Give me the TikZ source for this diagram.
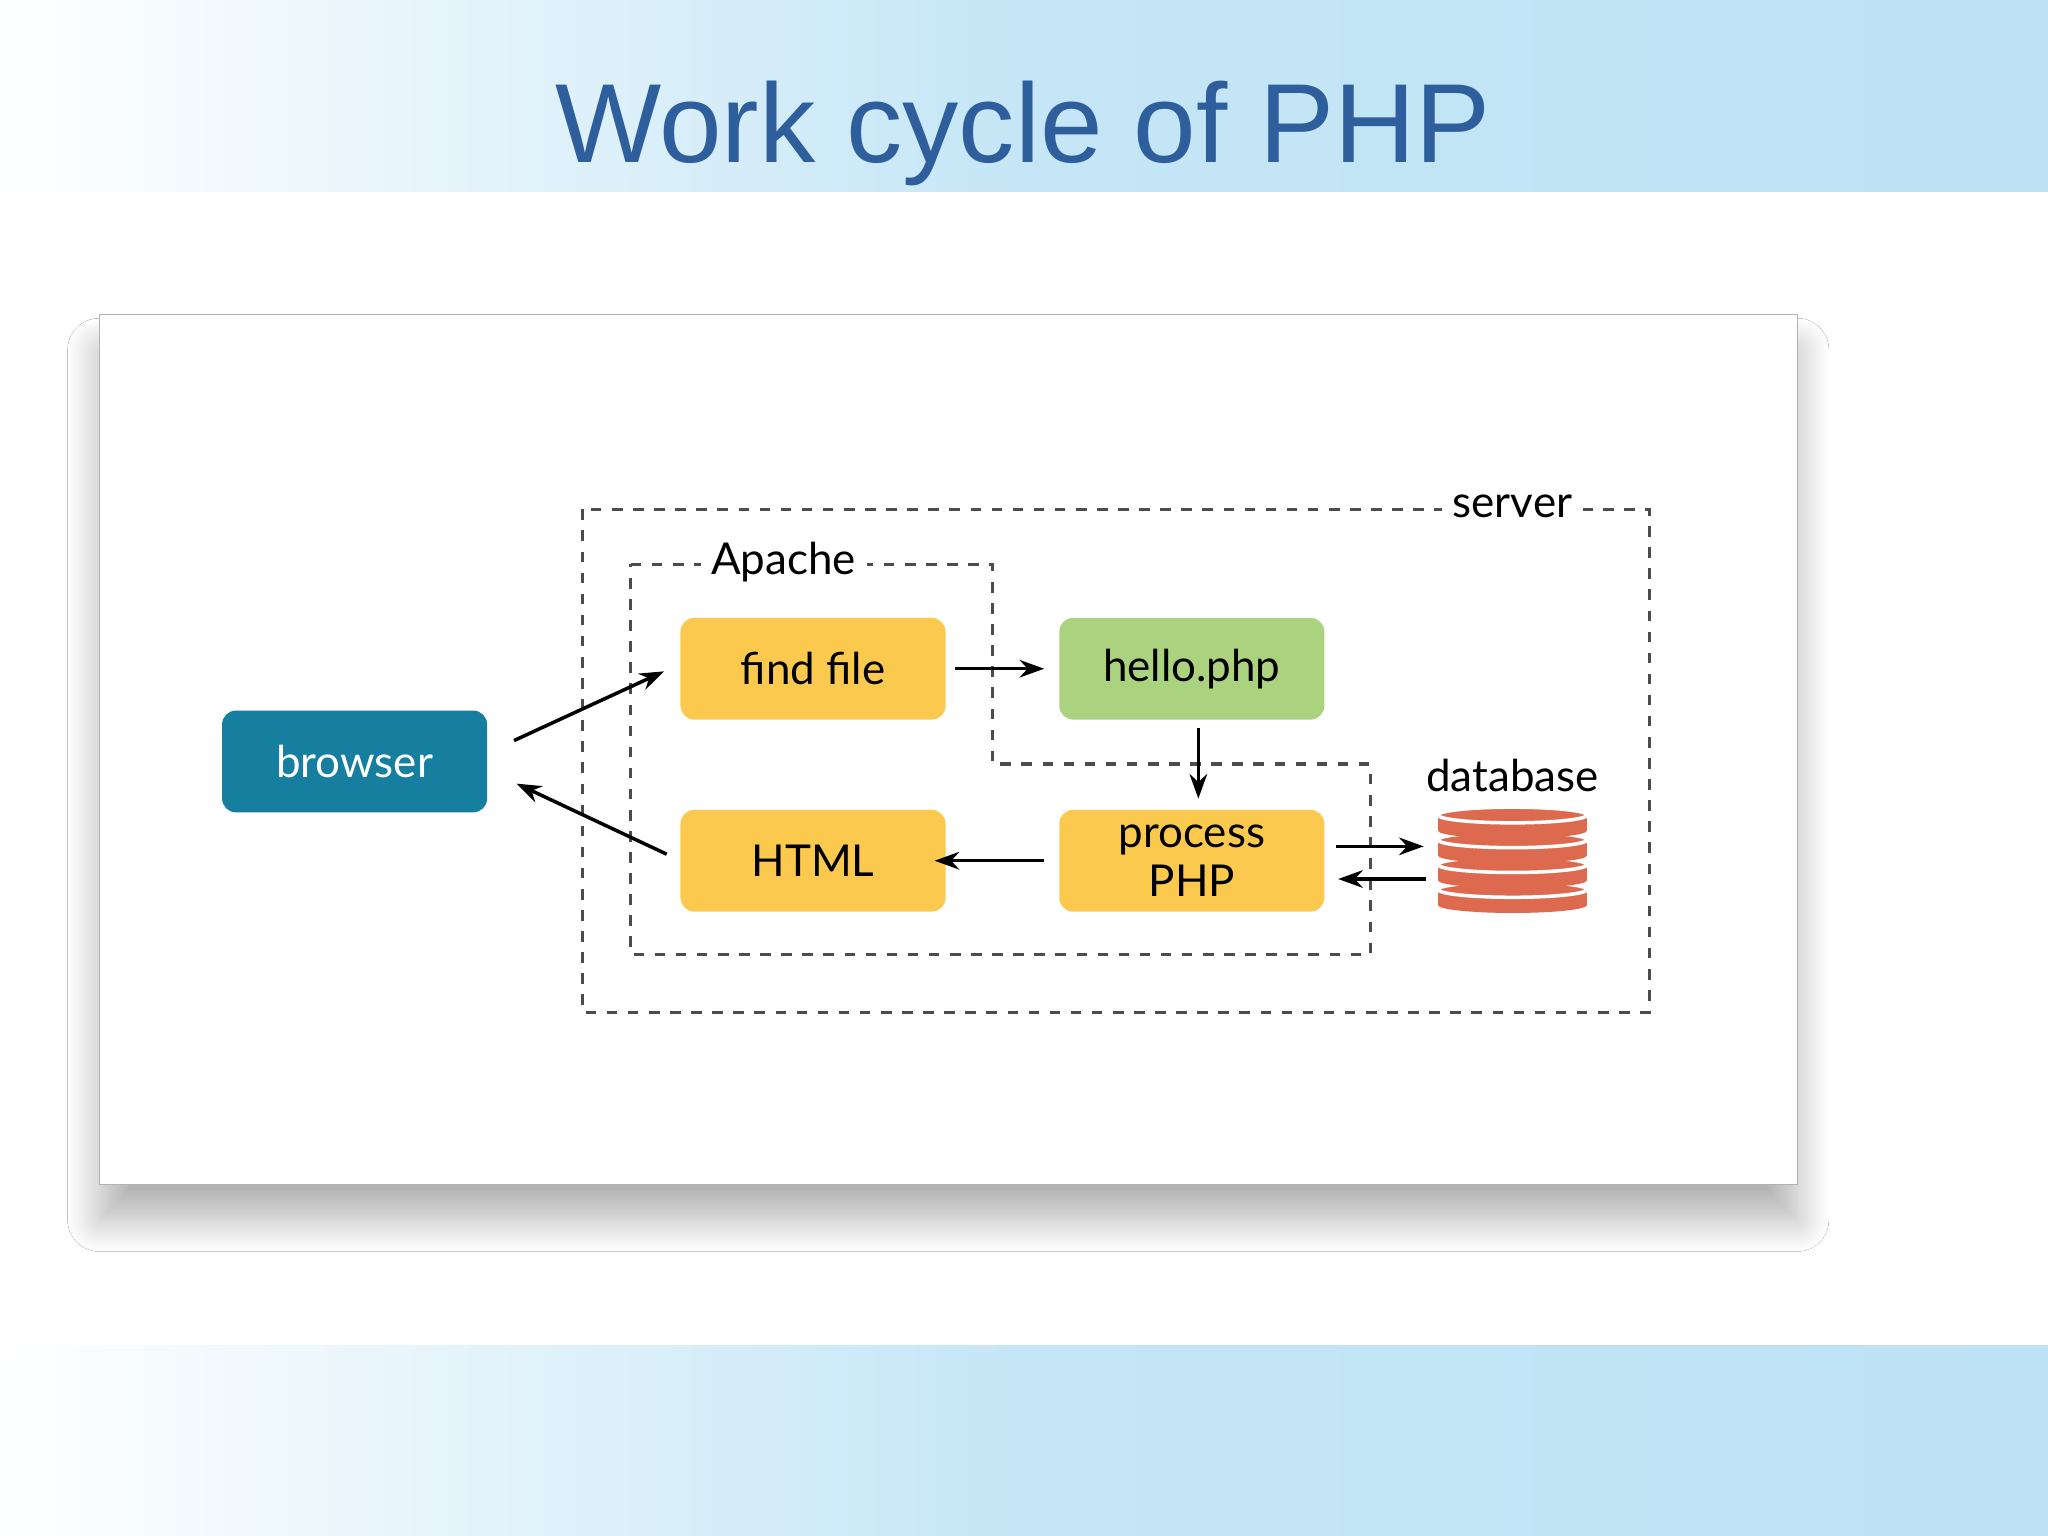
\documentclass[tikz,border=0pt]{standalone}
\usepackage{fontspec}
\setmainfont{Liberation Sans}
\newfontfamily\diag{Lato}
\usetikzlibrary{shadows.blur,arrows.meta}
\definecolor{band}{HTML}{BEE3F5}
\definecolor{ttl}{HTML}{2E5E9C}
\definecolor{brw}{HTML}{167FA0}
\definecolor{yel}{HTML}{FCC94F}
\definecolor{grn}{HTML}{ABD27F}
\definecolor{dbc}{HTML}{DD6A4F}
\newlength{\pu}\setlength{\pu}{0.013061cm}
\tikzset{
 box/.style={rounded corners=4pt,minimum width=203\pu,minimum height=78\pu,inner sep=0pt,font=\diag\fontsize{12.5pt}{14pt}\selectfont,align=center},
 dashbox/.style={draw=black!70,dash pattern=on 3pt off 3pt,line width=0.9pt},
 arr/.style={-{Stealth[length=7pt,width=5pt]},line width=1pt},
 lbl/.style={font=\diag\fontsize{12.5pt}{13pt}\selectfont,fill=white,inner sep=3pt}
}
\begin{document}
\begin{tikzpicture}[x=\pu,y=-\pu]
\useasboundingbox (0,0) rectangle (1568,1176);
\fill[white] (0,0) rectangle (1568,1176);
\shade[left color=white,right color=band,middle color=band!90] (0,0) rectangle (1568,147);
\shade[left color=white,right color=band,middle color=band!90] (0,1030) rectangle (1568,1176);
\node[text=ttl,font=\fontsize{32pt}{34pt}\selectfont] (title) at (783,102) {Work cycle of PHP};
\filldraw[draw=black!30,fill=white,blur shadow={shadow xshift=0pt,shadow yshift=-10pt,shadow blur radius=9pt,shadow blur steps=20,shadow opacity=30}] (76,241) rectangle (1376,907);
\draw[dashbox] (446,390) rectangle (1263,775);
\node[lbl] (server) at (1158,388) {server};
\draw[dashbox] (483,432) -- (760,432) -- (760,585) -- (1049,585) -- (1049,731) -- (483,731) -- cycle;
\node[lbl] (apache) at (600,430) {Apache};
\node[box,fill=brw,text=white] (browser) at (271.5,583) {browser};
\node[box,fill=yel] (find) at (622.5,512) {find file};
\node[box,fill=grn] (hello) at (912.5,512) {hello.php};
\node[box,fill=yel] (html) at (622.5,659) {HTML};
\node[box,fill=yel] (proc) at (912.5,659) {process\\PHP};
\node[font=\diag\fontsize{12.5pt}{13pt}\selectfont] (dbl) at (1158,594) {database};
\coordinate (db) at (1158,659);
\foreach \t in {681,662,643,624}{
  \fill[dbc] (1101,\t) rectangle (1215,\t+12);
  \fill[dbc] (1158,\t+12) ellipse (57 and 6);
  \draw[white,line width=1pt,fill=dbc] (1158,\t) ellipse (57 and 6);
}
\draw[arr] ([shift={(20,-16)}]browser.east) -- ([shift={(-12,2)}]find.west);
\draw[arr] ([shift={(-10,-5)}]html.west) -- ([shift={(22,17)}]browser.east);
\draw[arr] ([xshift=7\pu]find.east) -- ([xshift=-11\pu]hello.west);
\draw[arr] ([shift={(5,6)}]hello.south) -- ([shift={(5,-8)}]proc.north);
\draw[arr] ([xshift=-11\pu]proc.west) -- ([xshift=-9\pu]html.east);
\draw[arr] ([shift={(8,-11)}]proc.east) -- ([shift={(-68,-11)}]db);
\draw[arr] ([shift={(-66,14)}]db) -- ([shift={(10,14)}]proc.east);
\end{tikzpicture}
\end{document}
